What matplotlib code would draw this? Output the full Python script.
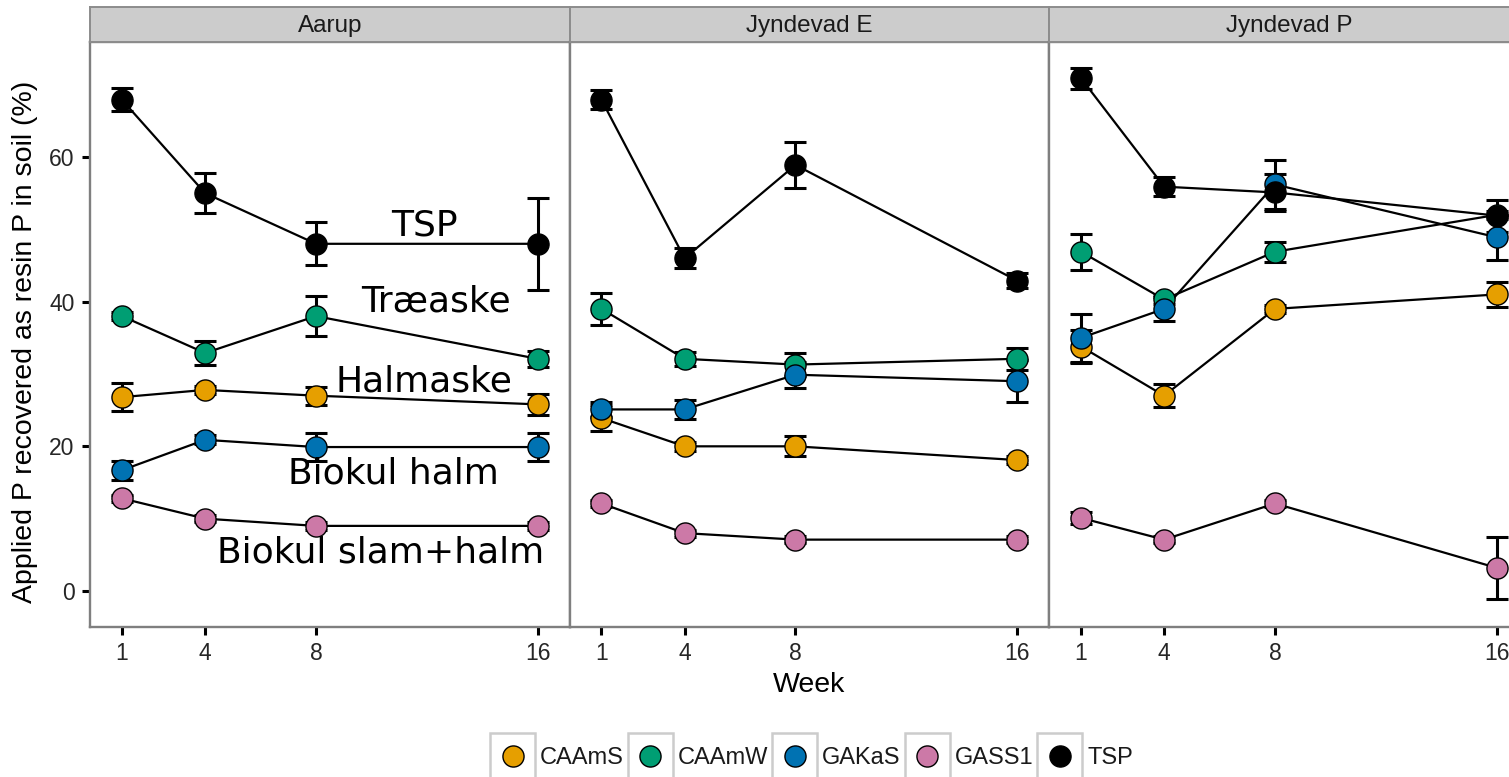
import matplotlib
matplotlib.use('Agg')
import matplotlib.pyplot as plt
from matplotlib.patches import Rectangle
from matplotlib.lines import Line2D

# Resin-extractable P recovered after application, by site and treatment
weeks = [1, 4, 8, 16]
sites = ['Aarup', 'Jyndevad E', 'Jyndevad P']
treatments = ['CAAmS', 'CAAmW', 'GAKaS', 'GASS1', 'TSP']
colours = ['#E69F00', '#009E73', '#0072B2', '#CC79A7', '#000000']

# means (%), one row per treatment in the order above
aarup_mean = [[26.8, 27.8, 27.0, 25.8],
              [38.0, 32.9, 38.0, 32.1],
              [16.7, 20.9, 19.9, 19.9],
              [12.8, 10.0, 9.0, 9.0],
              [67.9, 55.0, 48.0, 48.0]]
aarup_se = [[1.9, 0.6, 1.25, 1.45],
            [0.6, 1.6, 2.8, 1.1],
            [1.3, 0.6, 1.9, 1.9],
            [0.5, 0.5, 0.5, 0.5],
            [1.6, 2.8, 3.0, 6.4]]

jyn_e_mean = [[23.9, 20.0, 20.0, 18.1],
              [39.0, 32.1, 31.3, 32.1],
              [25.1, 25.1, 29.9, 29.0],
              [12.1, 8.0, 7.1, 7.1],
              [67.9, 46.0, 58.9, 42.9]]
jyn_e_se = [[1.8, 0.6, 1.4, 0.5],
            [2.25, 1.0, 1.6, 1.5],
            [1.0, 1.35, 1.8, 2.9],
            [0.5, 0.5, 0.5, 0.5],
            [1.3, 1.4, 3.2, 1.0]]

jyn_p_mean = [[33.8, 27.0, 39.0, 41.0],
              [46.9, 40.3, 46.9, 52.0],
              [35.0, 39.0, 56.2, 48.9],
              [10.1, 7.1, 12.1, 3.2],
              [70.9, 55.9, 55.1, 51.9]]
jyn_p_se = [[2.3, 1.55, 0.6, 1.7],
            [2.5, 0.6, 1.35, 0.6],
            [3.3, 1.7, 3.4, 3.1],
            [0.8, 0.5, 0.5, 4.3],
            [1.45, 1.35, 2.5, 2.2]]

site_means = [aarup_mean, jyn_e_mean, jyn_p_mean]
site_se = [aarup_se, jyn_e_se, jyn_p_se]

# treatment names written into the first panel
labels = ['TSP', 'Træaske', 'Halmaske', 'Biokul halm', 'Biokul slam+halm']
label_x = [11.93, 12.32, 11.9, 10.81, 10.34]
label_y = [49.2, 38.6, 27.6, 14.8, 4.0]

W, H = 1509, 777
fig = plt.figure(figsize=(W / 100, H / 100), dpi=100)
plt.rcParams['font.family'] = ['Liberation Sans', 'DejaVu Sans']


def fbox(x0, y0, x1, y1):
    # pixel box (top-left origin) -> figure fraction rect
    return [x0 / W, 1 - y1 / H, (x1 - x0) / W, (y1 - y0) / H]


left, pw = 90, 479.5
ptop, pbot, stop = 42, 627, 7
border = '#7F7F7F'
ms = 15.2

axes = []
for i, site in enumerate(sites):
    x0 = left + i * pw
    ax = fig.add_axes(fbox(x0, ptop, x0 + pw, pbot))
    ax.set_xlim(-0.154, 17.15)
    ax.set_ylim(-4.98, 75.9)
    ax.set_xticks(weeks)
    ax.set_yticks([0, 20, 40, 60])
    for sp in ax.spines.values():
        sp.set_color(border)
        sp.set_linewidth(1.7)
    ax.tick_params(length=6, width=2.2, color='black', labelsize=16.5,
                   labelcolor='#262626', pad=5)
    if i > 0:
        ax.tick_params(axis='y', left=False, labelleft=False)

    means, errs = site_means[i], site_se[i]
    for k in range(len(treatments)):
        ax.errorbar(weeks, means[k], yerr=errs[k], fmt='none', ecolor='black',
                    elinewidth=2.2, capsize=8, capthick=2.2, zorder=2)
    for k in range(len(treatments)):
        ax.plot(weeks, means[k], color='black', lw=1.6, zorder=3)
    for k in range(len(treatments)):
        ax.plot(weeks, means[k], 'o', ms=ms, mfc=colours[k], mec='black',
                mew=1, zorder=4)

    # facet strip
    sax = fig.add_axes(fbox(x0, stop, x0 + pw, ptop))
    sax.set_facecolor('#CCCCCC')
    sax.set_xticks([])
    sax.set_yticks([])
    for sp in sax.spines.values():
        sp.set_color('#8C8C8C')
        sp.set_linewidth(1.4)
    sax.text(0.5, 0.47, site, transform=sax.transAxes, ha='center',
             va='center', fontsize=17.5, color='#1a1a1a')
    axes.append(ax)

for lab, lx, ly in zip(labels, label_x, label_y):
    axes[0].text(lx, ly, lab, ha='center', va='baseline', fontsize=26,
                 family=['DejaVu Sans'], color='black', zorder=5)

fig.text(25 / W, 1 - 342 / H, 'Applied P recovered as resin P in soil (%)',
         rotation=90, ha='center', va='center', fontsize=20.5)
fig.text(809 / W, 1 - 692 / H, 'Week', ha='center', va='baseline', fontsize=20.5)

# legend row: boxed keys with marker, label to the right
renderer = fig.canvas.get_renderer()
key, gap_in, gap_out = 45, 5, 4
items = []
for name in treatments:
    t = fig.text(0, 0, name, fontsize=17)
    items.append(t.get_window_extent(renderer).width)
    t.remove()
x = 490
ky0 = 733
for name, col, tw in zip(treatments, colours, items):
    fig.add_artist(Rectangle((x / W, 1 - (ky0 + key) / H), key / W, key / H,
                             transform=fig.transFigure, facecolor='white',
                             edgecolor='#CCCCCC', lw=1.8))
    cx, cy = x + key / 2, ky0 + key / 2
    fig.add_artist(Line2D([cx / W], [1 - cy / H], marker='o', ms=ms,
                          mfc=col, mec='black', mew=1, linestyle='none',
                          transform=fig.transFigure))
    fig.text((x + key + gap_in) / W, 1 - 764 / H, name, fontsize=17,
             va='baseline', color='#1a1a1a')
    x += key + gap_in + tw + gap_out

fig.savefig('out.png', dpi=100)
